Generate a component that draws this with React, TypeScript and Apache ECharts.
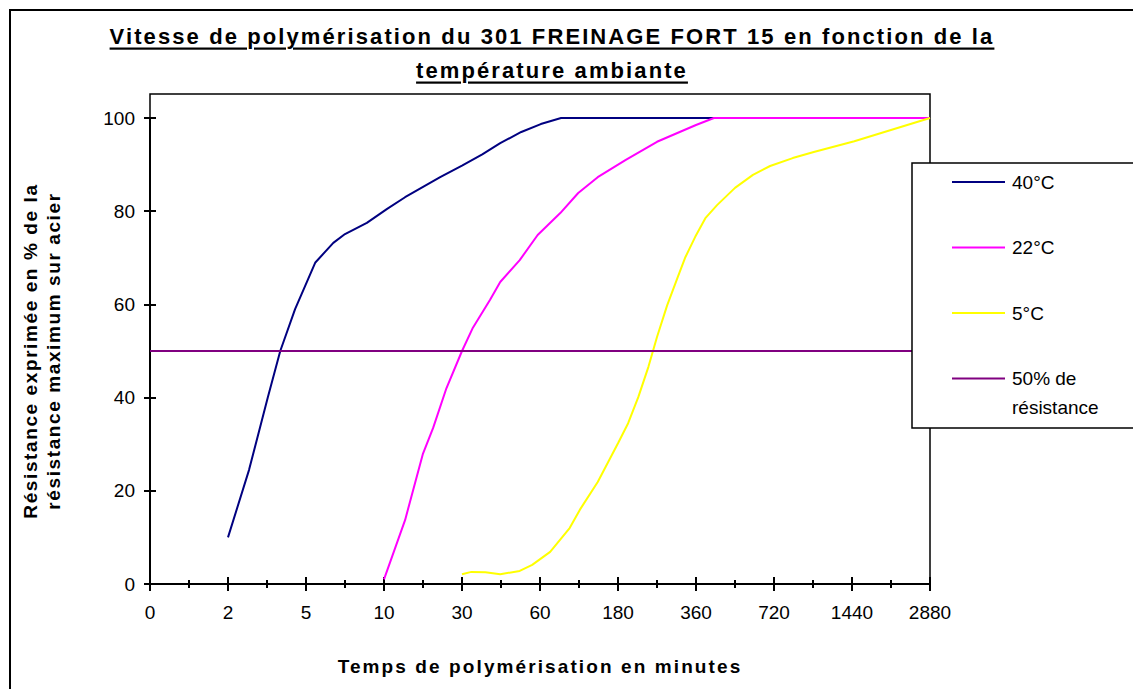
import React, { useEffect, useRef } from 'react';
import * as echarts from 'echarts';

// X tick labels (minutes) placed at category positions 0..10
const xTickLabels = ['0', '2', '5', '10', '30', '60', '180', '360', '720', '1440', '2880'];

const seriesNames = ['40°C', '22°C', '5°C', '50% de\nrésistance'];
const seriesColors = ['#000080', '#FF00FF', '#FFFF00', '#800080'];

// 40°C curve (positions on the category scale, values in %)
const pos40 = [1.0, 1.27, 1.51, 1.67, 1.86, 2.12, 2.35, 2.5, 2.78, 3.04, 3.27, 3.72, 4.0, 4.26, 4.49, 4.76, 5.01, 5.27, 10];
const val40 = [10, 24.5, 40, 50, 59, 69, 73.2, 75.1, 77.5, 80.5, 83, 87.3, 89.8, 92.2, 94.6, 97, 98.7, 100, 100];

// 22°C curve
const pos22 = [3.0, 3.27, 3.5, 3.63, 3.8, 4.0, 4.14, 4.36, 4.49, 4.74, 4.97, 5.26, 5.49, 5.74, 6.1, 6.5, 7.0, 7.23, 10];
const val22 = [1, 13.7, 28, 33.5, 42, 50, 55, 61, 64.8, 69.5, 74.9, 79.6, 83.9, 87.3, 91, 94.9, 98.5, 100, 100];

// 5°C curve
const pos5 = [4.0, 4.12, 4.3, 4.49, 4.74, 4.9, 5.13, 5.38, 5.51, 5.74, 6.0, 6.13, 6.26, 6.39, 6.5, 6.63, 6.76, 6.86, 6.99, 7.12, 7.27, 7.5, 7.73, 7.95, 8.24, 8.51, 9.03, 10];
const val5 = [2.1, 2.6, 2.5, 2.1, 2.8, 4.1, 6.9, 12, 15.9, 21.9, 30.2, 34.5, 40.1, 46.6, 53, 59.8, 65.6, 70, 74.5, 78.5, 81.3, 85, 87.8, 89.7, 91.4, 92.7, 95, 100];

// 50% reference line
const posRef = [0, 10];
const valRef = [50, 50];

const yTicks = { min: 0, max: 100, interval: 20 };

const FONT = "'Liberation Sans', Arial, Helvetica, sans-serif";

const zip = (xs: number[], ys: number[]) => xs.map((x, i) => [x, ys[i]]);

export default function App() {
  const ref = useRef<HTMLDivElement>(null);

  useEffect(() => {
    if (!ref.current) return;
    const chart = echarts.init(ref.current, null, { renderer: 'svg' });

    const seriesData = [zip(pos40, val40), zip(pos22, val22), zip(pos5, val5), zip(posRef, valRef)];

    const legendGraphics: any[] = [
      {
        type: 'rect',
        shape: { x: 912, y: 163, width: 260, height: 265 },
        style: { fill: '#fff', stroke: '#000', lineWidth: 1.5 },
        z: 10,
      },
    ];
    seriesNames.forEach((name, i) => {
      const cy = 182 + i * 65.5;
      legendGraphics.push({
        type: 'line',
        shape: { x1: 952, y1: cy, x2: 1005, y2: cy },
        style: { stroke: seriesColors[i], lineWidth: 2 },
        z: 11,
      });
      legendGraphics.push({
        type: 'text',
        x: 1012,
        y: cy - 14.5,
        style: {
          text: name,
          fontSize: 19,
          fontFamily: FONT,
          fill: '#000',
          lineHeight: 29,
          align: 'left',
          verticalAlign: 'top',
        },
        z: 11,
      });
    });

    const xAxisBase = {
      type: 'value',
      min: 0,
      max: 10,
      interval: 1,
      gridIndex: 0,
      position: 'bottom',
      splitLine: { show: false },
    };
    const yAxisBase = {
      type: 'value',
      min: yTicks.min,
      max: yTicks.max,
      interval: yTicks.interval,
      gridIndex: 0,
      position: 'left',
      splitLine: { show: false },
    };

    const option: any = {
      animation: false,
      backgroundColor: '#fff',
      title: {
        text: 'Vitesse de polymérisation du 301 FREINAGE FORT 15 en fonction de la\ntempérature ambiante',
        left: 552,
        top: 19,
        textAlign: 'center',
        padding: 0,
        textStyle: {
          fontFamily: FONT,
          fontSize: 22,
          fontWeight: 800,
          color: '#000',
          lineHeight: 34,
        },
      },
      grid: { left: 150, right: 203, top: 118, bottom: 105, containLabel: false },
      xAxis: [
        {
          ...xAxisBase,
          name: 'Temps de polymérisation en minutes',
          nameLocation: 'middle',
          nameGap: 73,
          nameTextStyle: { fontFamily: FONT, fontSize: 19, fontWeight: 'bold', color: '#000' },
          axisLine: { show: true, onZero: false, lineStyle: { color: '#000', width: 2 } },
          axisTick: { show: true, inside: false, length: 7, lineStyle: { color: '#000', width: 2 } },
          minorTick: { show: true, splitNumber: 2, length: 4, lineStyle: { color: '#000', width: 2 } },
          axisLabel: {
            show: true,
            margin: 19,
            fontFamily: FONT,
            fontSize: 19,
            color: '#000',
            formatter: (v: number) => xTickLabels[Math.round(v)] ?? '',
          },
        },
        {
          ...xAxisBase,
          axisLine: { show: false },
          axisTick: { show: true, inside: true, length: 7, lineStyle: { color: '#000', width: 2 } },
          minorTick: { show: true, splitNumber: 2, length: 4, lineStyle: { color: '#000', width: 2 } },
          axisLabel: { show: false },
        },
      ],
      yAxis: [
        {
          ...yAxisBase,
          name: 'Résistance exprimée en % de la\nrésistance maximum sur acier',
          nameLocation: 'middle',
          nameGap: 85,
          nameTextStyle: { fontFamily: FONT, fontSize: 19, fontWeight: 700, color: '#000', lineHeight: 23 },
          axisLine: { show: true, onZero: false, lineStyle: { color: '#000', width: 2 } },
          axisTick: { show: true, inside: false, length: 6, lineStyle: { color: '#000', width: 2 } },
          axisLabel: { show: true, margin: 15, fontFamily: FONT, fontSize: 19, color: '#000' },
        },
        {
          ...yAxisBase,
          axisLine: { show: false },
          axisTick: { show: true, inside: true, length: 6, lineStyle: { color: '#000', width: 2 } },
          axisLabel: { show: false },
        },
      ],
      series: seriesNames.map((name, i) => ({
        name,
        type: 'line',
        xAxisIndex: 0,
        yAxisIndex: 0,
        data: seriesData[i],
        symbol: 'none',
        smooth: false,
        lineStyle: { color: seriesColors[i], width: 2 },
        itemStyle: { color: seriesColors[i] },
        z: 3 + i,
      })),
      graphic: [
        {
          type: 'rect',
          shape: { x: 10, y: 10, width: 1300, height: 900 },
          style: { fill: 'none', stroke: '#000', lineWidth: 2 },
          z: 0,
        },
        {
          type: 'rect',
          shape: { x: 150, y: 94, width: 780, height: 490 },
          style: { fill: 'none', stroke: '#000', lineWidth: 1.5 },
          z: 1,
        },
        ...legendGraphics,
      ],
    };

    chart.setOption(option);
    return () => {
      chart.dispose();
    };
  }, []);

  return (
    <>
      <style>{`
        #chart-host text[style*="800"] { letter-spacing: 2.1px; text-decoration: underline; text-decoration-thickness: 2px; text-underline-offset: 3px; }
        #chart-host text[style*="bold"] { letter-spacing: 2.1px; }
        #chart-host text[style*="700"] { letter-spacing: 1.6px; }
      `}</style>
      <div
        id="chart-host"
        ref={ref}
        style={{ position: 'absolute', left: 0, top: 0, width: 1133, height: 689, background: '#fff' }}
      />
    </>
  );
}
